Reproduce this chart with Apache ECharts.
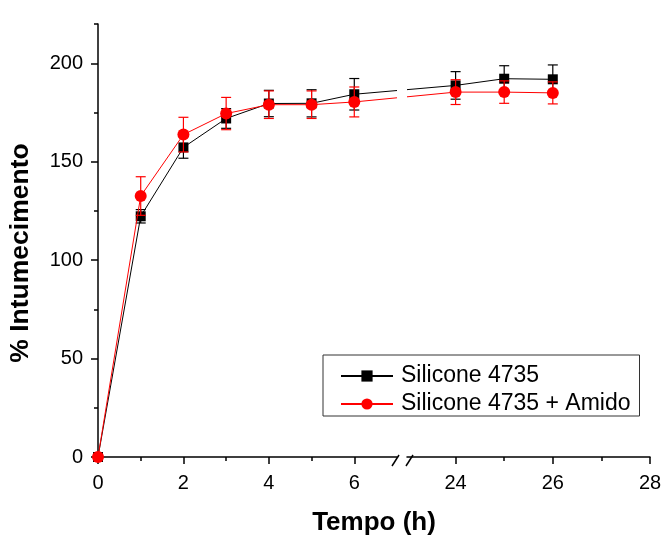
<!DOCTYPE html>
<html>
<head>
<meta charset="utf-8">
<script src="https://cdn.jsdelivr.net/npm/echarts@6/dist/echarts.min.js"></script>
<style>
  html, body { margin: 0; padding: 0; background: #fff; }
  #chart { width: 665px; height: 537px; }
</style>
</head>
<body>
<div id="chart"></div>
<script>
// ---- data ----
const timeHours   = [0, 1, 2, 3, 4, 5, 6, 24, 25, 26];
const silicone    = [0, 122.3, 157.3, 172.0, 179.6, 179.7, 184.3, 188.8, 192.2, 191.9];
const siliconeErr = [0, 3.4, 5.5, 5.0, 6.7, 6.9, 8.0, 7.0, 6.6, 7.3];
const amido       = [0, 132.6, 163.8, 174.5, 179.0, 179.0, 180.4, 185.4, 185.4, 185.0];
const amidoErr    = [0, 9.8, 8.8, 8.2, 7.0, 7.0, 7.6, 6.3, 5.7, 5.6];
const seriesNames = ['Silicone 4735', 'Silicone 4735 + Amido'];

// axis segments (broken x axis) and tick values
const leftRange   = [0, 7];
const rightRange  = [23, 28];
const xMajorLeft  = [0, 2, 4, 6];
const xMinorLeft  = [1, 3, 5];
const xMajorRight = [24, 26, 28];
const xMinorRight = [25, 27];
const yRange      = [0, 220];
const yMajor      = [0, 50, 100, 150, 200];
const yMinor      = [25, 75, 125, 175, 220];
const xTitle = 'Tempo (h)';
const yTitle = '% Intumecimento';

// ---- styling ----
const FONT = '"Liberation Sans", Arial, sans-serif';
const BLACK = '#000000';
const RED = '#ff0000';
const GRID_TOP = 24, GRID_H = 433;

function rows(xs, ys, es, range) {
  const out = [];
  for (let i = 0; i < xs.length; i++) {
    if (xs[i] >= range[0] && xs[i] <= range[1]) out.push([xs[i], ys[i], es[i]]);
  }
  return out;
}

function errRender(color) {
  return function (params, api) {
    const x = api.value(0), y = api.value(1), e = api.value(2);
    if (!e) return null;
    const t = api.coord([x, y + e]);
    const b = api.coord([x, y - e]);
    const h = 5;
    const st = { stroke: color, lineWidth: 1.2 };
    return {
      type: 'group',
      children: [
        { type: 'line', shape: { x1: t[0], y1: t[1], x2: b[0], y2: b[1] }, style: st },
        { type: 'line', shape: { x1: t[0] - h, y1: t[1], x2: t[0] + h, y2: t[1] }, style: st },
        { type: 'line', shape: { x1: b[0] - h, y1: b[1], x2: b[0] + h, y2: b[1] }, style: st }
      ]
    };
  };
}

function xAxisMajor(gridIndex, range, ticks) {
  return {
    type: 'value', gridIndex: gridIndex, min: range[0], max: range[1], position: 'bottom',
    axisLine: { show: true, onZero: false, lineStyle: { color: BLACK, width: 1.5 } },
    axisTick: { show: true, length: 7, lineStyle: { color: BLACK, width: 1.5 }, customValues: ticks },
    axisLabel: { show: true, customValues: ticks, fontSize: 20, color: BLACK, fontFamily: FONT, margin: 16 },
    splitLine: { show: false }
  };
}
function xAxisMinor(gridIndex, range, ticks) {
  return {
    type: 'value', gridIndex: gridIndex, min: range[0], max: range[1], position: 'bottom',
    axisLine: { show: false, onZero: false },
    axisTick: { show: true, length: 4, lineStyle: { color: BLACK, width: 1.5 }, customValues: ticks },
    axisLabel: { show: false },
    splitLine: { show: false }
  };
}

const series = [];
const defs = [
  { name: seriesNames[0], ys: silicone, es: siliconeErr, color: BLACK, symbol: 'rect', size: 10, z: 3 },
  { name: seriesNames[1], ys: amido, es: amidoErr, color: RED, symbol: 'circle', size: 12, z: 5 }
];
defs.forEach(function (d) {
  [[leftRange, 0, 0], [rightRange, 2, 2]].forEach(function (seg) {
    const data = rows(timeHours, d.ys, d.es, seg[0]);
    series.push({
      type: 'custom', name: d.name + ' err', xAxisIndex: seg[1], yAxisIndex: seg[2],
      renderItem: errRender(d.color), data: data, z: d.z - 1, silent: true,
      encode: { x: 0, y: 1 }
    });
    series.push({
      type: 'line', name: d.name, xAxisIndex: seg[1], yAxisIndex: seg[2],
      data: data.map(function (r) { return [r[0], r[1]]; }),
      symbol: d.symbol, symbolSize: d.size, showSymbol: true,
      itemStyle: { color: d.color }, lineStyle: { color: d.color, width: 1 },
      z: d.z, animation: false, clip: true
    });
  });
});

const chart = echarts.init(document.getElementById('chart'), null, { renderer: 'canvas' });
chart.setOption({
  animation: false,
  backgroundColor: '#ffffff',
  grid: [
    { left: 98, top: GRID_TOP, width: 299, height: GRID_H },
    { left: 407, right: 15, top: GRID_TOP, height: GRID_H }
  ],
  xAxis: [
    xAxisMajor(0, leftRange, xMajorLeft),
    xAxisMinor(0, leftRange, xMinorLeft),
    xAxisMajor(1, rightRange, xMajorRight),
    xAxisMinor(1, rightRange, xMinorRight)
  ],
  yAxis: [
    {
      type: 'value', gridIndex: 0, min: yRange[0], max: yRange[1], position: 'left',
      axisLine: { show: true, onZero: false, lineStyle: { color: BLACK, width: 1.5 } },
      axisTick: { show: true, length: 7, lineStyle: { color: BLACK, width: 1.5 }, customValues: yMajor },
      axisLabel: { show: true, customValues: yMajor, fontSize: 20, color: BLACK, fontFamily: FONT, margin: 15 },
      splitLine: { show: false }
    },
    {
      type: 'value', gridIndex: 0, min: yRange[0], max: yRange[1], position: 'left', offset: 0,
      axisLine: { show: false, onZero: false },
      axisTick: { show: true, length: 4, lineStyle: { color: BLACK, width: 1.5 }, customValues: yMinor },
      axisLabel: { show: false }, splitLine: { show: false }
    },
    { type: 'value', gridIndex: 1, min: yRange[0], max: yRange[1], show: false, splitLine: { show: false } }
  ],
  legend: {
    data: seriesNames,
    orient: 'vertical',
    left: 323, top: 355,
    padding: [9, 9, 0, 17],
    itemGap: 4,
    itemWidth: 52, itemHeight: 14,
    borderColor: '#333', borderWidth: 1,
    selectedMode: false,
    textStyle: { fontSize: 23, color: BLACK, fontFamily: FONT, padding: [0, 0, 0, 3], lineHeight: 24 }
  },
  series: series
});

// ---- lines across the axis break, break marks and axis titles ----
function px(finder, v) { return chart.convertToPixel(finder, v); }
const xL = px({ xAxisIndex: 0 }, leftRange[1]);
const xR = px({ xAxisIndex: 2 }, rightRange[0]);
const axisY = px({ yAxisIndex: 0 }, yRange[0]);
const graphics = [];
defs.forEach(function (d) {
  let iL = -1, iR = -1;
  for (let i = 0; i < timeHours.length; i++) {
    if (timeHours[i] <= leftRange[1]) iL = i;
    if (iR < 0 && timeHours[i] >= rightRange[0]) iR = i;
  }
  const p1 = px({ xAxisIndex: 0, yAxisIndex: 0 }, [timeHours[iL], d.ys[iL]]);
  const p2 = px({ xAxisIndex: 2, yAxisIndex: 2 }, [timeHours[iR], d.ys[iR]]);
  const yAt = function (x) { return p1[1] + (p2[1] - p1[1]) * (x - p1[0]) / (p2[0] - p1[0]); };
  const st = { stroke: d.color, lineWidth: 1 };
  graphics.push({ type: 'line', z: d.z - 1, shape: { x1: p1[0], y1: p1[1], x2: xL, y2: yAt(xL) }, style: st, silent: true });
  graphics.push({ type: 'line', z: d.z - 1, shape: { x1: xR, y1: yAt(xR), x2: p2[0], y2: p2[1] }, style: st, silent: true });
});
// break marks on the x axis
graphics.push({ type: 'line', z: 10, shape: { x1: xL - 5, y1: axisY + 9, x2: xL + 2, y2: axisY - 2 }, style: { stroke: BLACK, lineWidth: 1.5 } });
graphics.push({ type: 'line', z: 10, shape: { x1: xR - 1, y1: axisY + 9, x2: xR + 6, y2: axisY - 2 }, style: { stroke: BLACK, lineWidth: 1.5 } });
// axis titles
const xStart = px({ xAxisIndex: 0 }, leftRange[0]);
const xEnd = px({ xAxisIndex: 2 }, rightRange[1]);
graphics.push({ type: 'text', x: (xStart + xEnd) / 2, y: 523,
  style: { text: xTitle, fontSize: 26, fontWeight: 'bold', fontFamily: FONT, fill: BLACK, align: 'center', verticalAlign: 'middle' } });
graphics.push({ type: 'text', x: 21, y: 253, rotation: Math.PI / 2,
  style: { text: yTitle, fontSize: 26.5, fontWeight: 'bold', fontFamily: FONT, fill: BLACK, align: 'center', verticalAlign: 'middle' } });
chart.setOption({ graphic: { elements: graphics } });
</script>
</body>
</html>
